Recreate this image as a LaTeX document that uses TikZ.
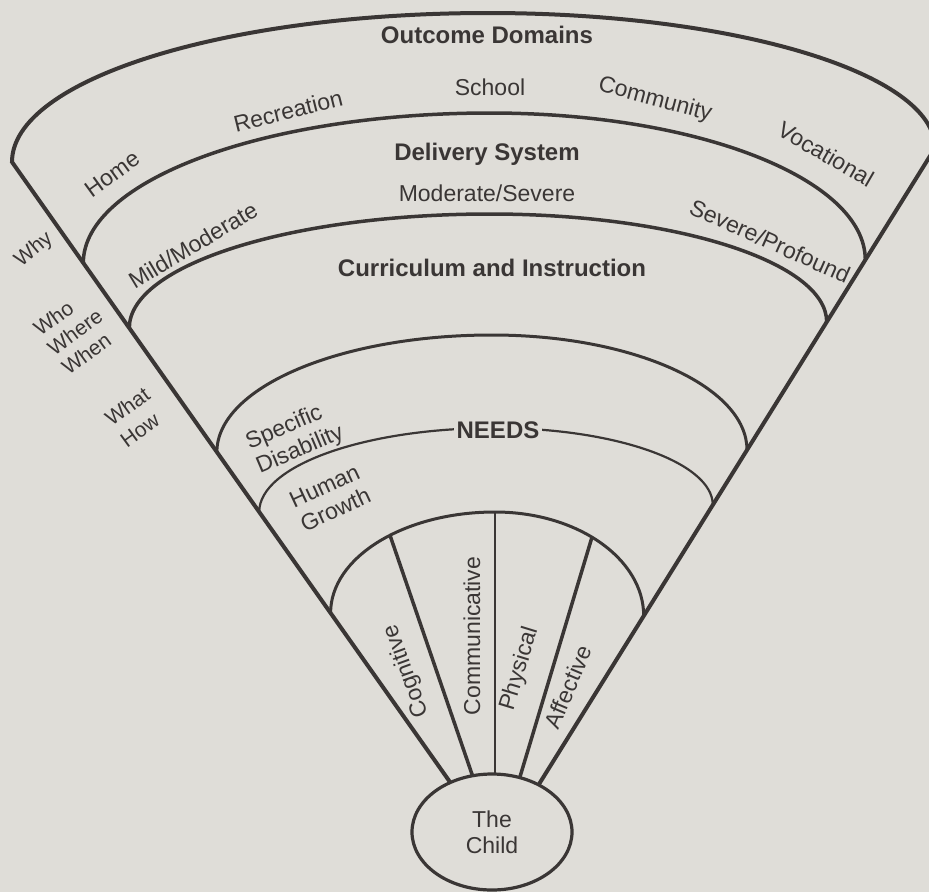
\documentclass[tikz,border=0pt]{standalone}
\usepackage{fontspec}
\setmainfont{Liberation Sans}
\usetikzlibrary{shapes.geometric}
\definecolor{bg}{RGB}{223,221,216}
\definecolor{ink}{RGB}{58,54,53}
\begin{document}
\begin{tikzpicture}[x=1pt,y=1pt,
  outerln/.style={draw=ink, line width=4pt},
  ln/.style={draw=ink, line width=3.5pt},
  midln/.style={draw=ink, line width=3pt},
  thinln/.style={draw=ink, line width=2.2pt},
  lbl/.style={text=ink, font=\fontsize{23}{26}\selectfont, inner sep=0pt, align=left},
  side/.style={text=ink, font=\fontsize{21}{25}\selectfont, inner sep=0pt, align=left},
  ttl/.style={text=ink, font=\fontsize{24}{28}\selectfont\bfseries, inner sep=0pt},
  childnode/.style={ellipse, draw=ink, line width=3.2pt, fill=bg, minimum width=160pt, minimum height=116pt, inner sep=0pt, text=ink, font=\fontsize{23}{26}\selectfont, align=center}]
\useasboundingbox (0,0) rectangle (929,-892);
\fill[bg] (0,0) rectangle (929,-892);
% apex and line ends
\coordinate (O) at (498,-850);
\coordinate (LT) at (12,-162);
\coordinate (Dl) at (83.3,-263);
\coordinate (Cl) at (129.3,-328);
\coordinate (Sl) at (216.9,-452);
\coordinate (Nl) at (259.2,-512);
\coordinate (Al) at (330.6,-613);
\coordinate (Acog) at (390,-535.3);
\coordinate (Atop) at (495,-512);
\coordinate (Abot) at (495,-850);
\coordinate (Aphy) at (592,-537.1);
% outer boundary
\draw[outerln, line join=miter] (O) -- (LT)
  arc[start angle=180, end angle=90, x radius=476pt, y radius=149pt]
  arc[start angle=90, end angle=0, x radius=447pt, y radius=135pt] -- (O);
% arcs
\draw[ln] (Dl) arc[start angle=180, end angle=90, x radius=406.7pt, y radius=150pt]
  arc[start angle=90, end angle=0, x radius=375.3pt, y radius=147pt];
\draw[ln] (Cl) arc[start angle=180, end angle=90, x radius=360.7pt, y radius=114pt]
  arc[start angle=90, end angle=0, x radius=336.7pt, y radius=108pt];
\draw[midln] (Sl) arc[start angle=180, end angle=90, x radius=275.1pt, y radius=117pt]
  arc[start angle=90, end angle=0, x radius=255pt, y radius=115pt];
\draw[thinln] (Nl) arc[start angle=180, end angle=90, x radius=235.8pt, y radius=84pt]
  arc[start angle=90, end angle=0, x radius=217.8pt, y radius=77pt];
\draw[midln] (Al) arc[start angle=180, end angle=90, x radius=164.4pt, y radius=101pt]
  arc[start angle=90, end angle=0, x radius=148.7pt, y radius=104pt];
% spokes
\draw[ln] (Acog) -- (O);
\draw[thinln, line width=2.6pt] (Atop) -- (Abot);
\draw[ln] (Aphy) -- (O);
% child
\node[childnode] (child) at (492,-832) {The\\Child};
% titles
\node[ttl] (outcome) at (487,-35) {Outcome Domains};
\node[ttl] (delivery) at (487,-154) {Delivery System};
\node[ttl] (curric) at (492,-268) {Curriculum and Instruction};
\node[ttl, fill=bg, inner xsep=3pt, inner ysep=2pt] (needs) at (498,-430) {NEEDS};
% labels
\node[lbl] (school) at (490,-87) {School};
\node[lbl, rotate=14] (recr) at (288,-111) {Recreation};
\node[lbl, rotate=-15] (comm) at (655,-100) {Community};
\node[lbl, rotate=-30] (voc) at (826,-154) {Vocational};
\node[lbl, rotate=36] (home) at (112,-174) {Home};
\node[side, rotate=40] (why) at (34,-250) {Why};
\node[lbl] (modsev) at (487,-193) {Moderate/Severe};
\node[lbl, rotate=31] (mildmod) at (193,-245) {Mild/Moderate};
\node[lbl, rotate=-24] (sevprof) at (770,-241) {Severe/Profound};
\node[side, rotate=36, align=left, font=\fontsize{21}{24}\selectfont] (www) at (75,-332) {Who\\Where\\When};
\node[side, rotate=36, align=left, font=\fontsize{21}{26}\selectfont] (whathow) at (135,-417) {What\\How};
\node[lbl, rotate=23, font=\fontsize{23}{27}\selectfont] (specdis) at (295,-438) {Specific\\Disability};
\node[lbl, rotate=25] (human) at (330,-498) {Human\\Growth};
\node[lbl, rotate=110] (cog) at (407,-671) {Cognitive};
\node[lbl, rotate=90] (commu) at (472,-636) {Communicative};
\node[lbl, rotate=73] (phys) at (520,-669) {Physical};
\node[lbl, rotate=67] (aff) at (568,-687) {Affective};
\end{tikzpicture}
\end{document}
